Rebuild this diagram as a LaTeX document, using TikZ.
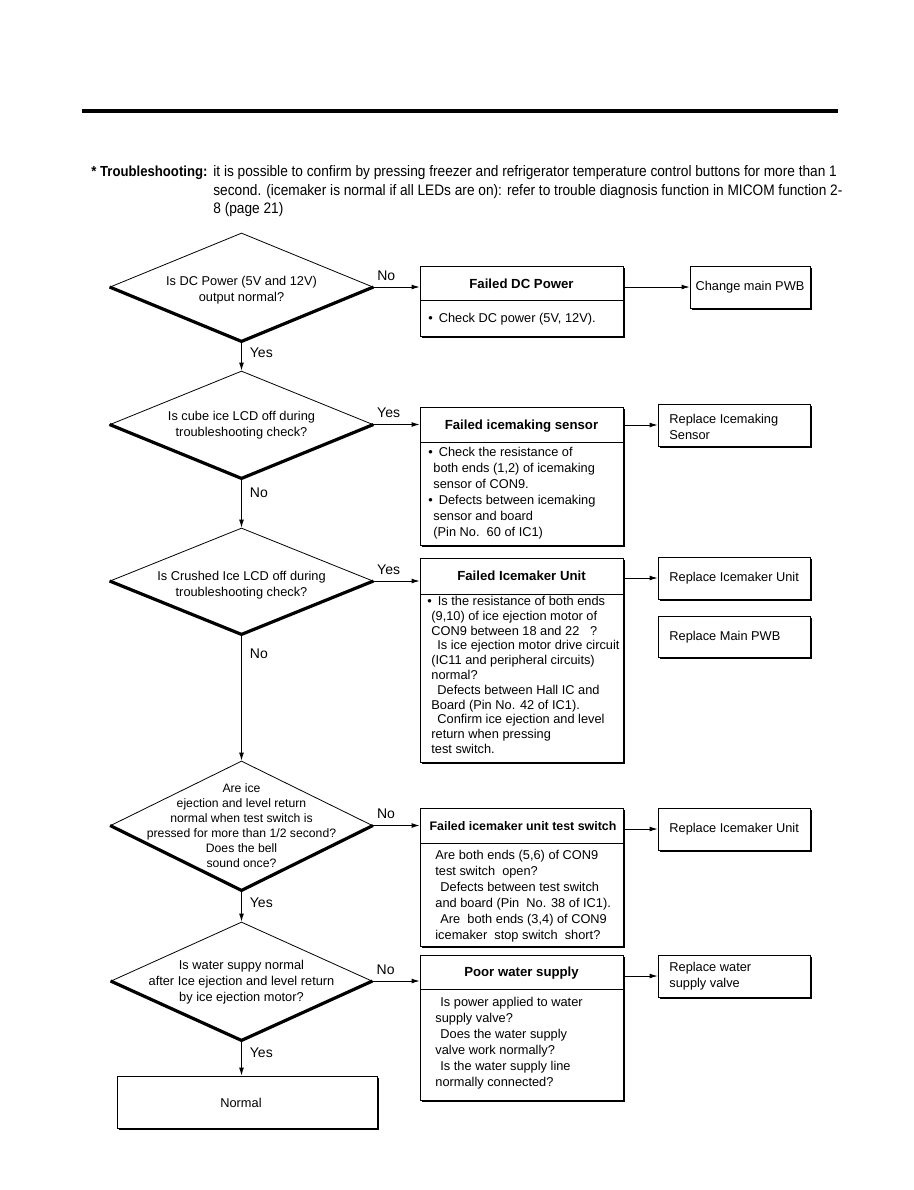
\documentclass[tikz,border=0pt]{standalone}
\usepackage{fontspec}
\setmainfont{Liberation Sans}
\newfontfamily\headfont[FakeStretch=0.9]{Liberation Sans}
\usetikzlibrary{positioning,shapes.geometric,shadows,fit,arrows.meta}

\newcommand{\bul}{•\hspace{3pt}}

\begin{document}
\begin{tikzpicture}[x=0.5pt, y=-0.5pt,
        font=\fontsize{6.4}{8}\selectfont,
        decision/.style={draw, diamond, inner sep=0pt},
        edge/.style={line width=1.6pt},
        failbox/.style={
            draw,
            fill=white,
            inner sep=0pt,
            drop shadow={shadow xshift=1.2pt, shadow yshift=-1.2pt, opacity=1, fill=black}
        },
        headtext/.style={font=\fontsize{6.6}{8}\bfseries},
        bodytext/.style={anchor=west, align=left, inner sep=0pt},
        fixtext/.style={anchor=west, align=left, inner sep=0pt},
        notetext/.style={anchor=west, inner sep=0pt, font=\headfont\fontsize{7.6}{9}\selectfont},
        arr/.style={-{Latex[length=4pt,width=2.4pt]}},
        lbl/.style={font=\fontsize{7}{8}\selectfont, inner sep=1pt}
    ]

    \useasboundingbox (0,0) rectangle (914,1190);

    % page rule and note
    \draw[line width=2pt] (82,111) -- (838,111);
    \node[notetext, font=\headfont\fontsize{7.3}{9}\bfseries] (note) at (91,173) {* Troubleshooting:};
    \node[notetext] (noteA) at (213,173) {it is possible to confirm by pressing freezer and refrigerator temperature control buttons for more than 1};
    \node[notetext] (noteB) at (213,192) {second. (icemaker is normal if all LEDs are on): refer to trouble diagnosis function in MICOM function 2-};
    \node[notetext] (noteC) at (213,210) {8 (page 21)};

    % questions
    \node[decision, minimum width=131.5pt, minimum height=54pt] (dcq) at (241.5,287) {};
    \node[align=center] (dcqtext) at (241.5,290) {Is DC Power (5V and 12V)\\output normal?};
    \draw[edge] (dcq.west) -- (dcq.south) -- (dcq.east);

    \node[decision, minimum width=131.5pt, minimum height=53.5pt] (cubeq) at (241.5,424.5) {};
    \node[align=center] (cubeqtext) at (241.5,425) {Is cube ice LCD off during\\troubleshooting check?};
    \draw[edge] (cubeq.west) -- (cubeq.south) -- (cubeq.east);

    \node[decision, minimum width=131.5pt, minimum height=53pt] (crushq) at (241.5,581) {};
    \node[align=center] (crushqtext) at (241.5,585) {Is Crushed Ice LCD off during\\troubleshooting check?};
    \draw[edge] (crushq.west) -- (crushq.south) -- (crushq.east);

    \node[decision, minimum width=131pt, minimum height=64.5pt] (ejectq) at (241.5,825.5) {};
    \node[align=center, font=\fontsize{6.1}{7.5}\selectfont] (ejectqtext) at (241.5,825.5) {Are ice\\ejection and level return\\normal when test switch is\\pressed for more than 1/2 second?\\Does the bell\\sound once?};
    \draw[edge] (ejectq.west) -- (ejectq.south) -- (ejectq.east);

    \node[decision, minimum width=130.5pt, minimum height=59pt] (waterq) at (241.5,981) {};
    \node[align=center] (waterqtext) at (241.5,982) {Is water suppy normal\\after Ice ejection and level return\\by ice ejection motor?};
    \draw[edge] (waterq.west) -- (waterq.south) -- (waterq.east);

    \node[failbox, fit={(117,1076) (377,1128)}] (normal) {};
    \node (normaltext) at (241,1103) {Normal};

    % failure boxes
    \node[failbox, fit={(420,266) (623,336)}] (dcfail) {};
    \draw (420,300) -- (623,300);
    \node[headtext] (dchead) at (521.5,284) {Failed DC Power};
    \node[bodytext] (dcbody) at (428,319) {\bul Check DC power (5V, 12V).};

    \node[failbox, fit={(420,407) (623,545)}] (cubefail) {};
    \draw (420,442) -- (623,442);
    \node[headtext] (cubehead) at (521.5,426) {Failed icemaking sensor};
    \node[bodytext] (cubebody) at (428,493) {\bul Check the resistance of\\\hspace*{2.5pt}both ends (1,2) of icemaking\\\hspace*{2.5pt}sensor of CON9.\\\bul Defects between icemaking\\\hspace*{2.5pt}sensor and board\\\hspace*{2.5pt}(Pin No.\ \ 60 of IC1)};

    \node[failbox, fit={(420,558) (623,762)}] (crushfail) {};
    \draw (420,594) -- (623,594);
    \node[headtext] (crushhead) at (521.5,576) {Failed Icemaker Unit};
    \node[bodytext, font=\fontsize{6.4}{7.4}\selectfont] (crushbody) at (427,675) {\bul Is the resistance of both ends\\\hspace*{2pt}(9,10) of ice ejection motor of\\\hspace*{2pt}CON9 between 18 and 22 \ \ ?\\\hspace*{5pt}Is ice ejection motor drive circuit\\\hspace*{2pt}(IC11 and peripheral circuits)\\\hspace*{2pt}normal?\\\hspace*{5pt}Defects between Hall IC and\\\hspace*{2pt}Board (Pin No. 42 of IC1).\\\hspace*{5pt}Confirm ice ejection and level\\\hspace*{2pt}return when pressing\\\hspace*{2pt}test switch.};

    \node[failbox, fit={(420,808) (623,946)}] (ejectfail) {};
    \draw (420,843) -- (623,843);
    \node[headtext, font=\fontsize{6.2}{8}\bfseries] (ejecthead) at (523,826) {Failed icemaker unit test switch};
    \node[bodytext] (ejectbody) at (435,896) {Are both ends (5,6) of CON9\\test switch\ \ open?\\\hspace*{2.5pt}Defects between test switch\\and board (Pin\ \ No. 38 of IC1).\\\hspace*{2.5pt}Are\ \ both ends (3,4) of CON9\\icemaker\ \ stop switch\ \ short?};

    \node[failbox, fit={(420,955) (623,1100)}] (waterfail) {};
    \draw (420,989) -- (623,989);
    \node[headtext] (waterhead) at (521.5,973) {Poor water supply};
    \node[bodytext] (waterbody) at (435,1043) {\hspace*{2.5pt}Is power applied to water\\supply valve?\\\hspace*{2.5pt}Does the water supply\\valve work normally?\\\hspace*{2.5pt}Is the water supply line\\normally connected?};

    % remedies
    \node[failbox, fit={(690,266) (810,308)}] (dcfix) {};
    \node (dcfixtext) at (dcfix.center) {Change main PWB};
    \node[failbox, fit={(658,404) (810,446)}] (cubefix) {};
    \node[fixtext] (cubefixtext) at (669,427) {Replace Icemaking\\Sensor};
    \node[failbox, fit={(658,557) (810,599)}] (crushfix) {};
    \node[fixtext] (crushfixtext) at (669,578) {Replace Icemaker Unit};
    \node[failbox, fit={(658,616) (810,657)}] (boardfix) {};
    \node[fixtext] (boardfixtext) at (669,637) {Replace Main PWB};
    \node[failbox, fit={(658,808) (810,850)}] (ejectfix) {};
    \node[fixtext] (ejectfixtext) at (669,829) {Replace Icemaker Unit};
    \node[failbox, fit={(658,955) (810,997)}] (waterfix) {};
    \node[fixtext] (waterfixtext) at (669,976) {Replace water\\supply valve};

    % flow
    \draw[arr] (dcq.south) -- node[lbl, pos=0.4, right=3pt] (dcyes) {Yes} (cubeq.north);
    \draw[arr] (cubeq.south) -- node[lbl, pos=0.3, right=3pt] (cubeno) {No} (crushq.north);
    \draw[arr] (crushq.south) -- node[lbl, pos=0.15, right=3pt] (crushno) {No} (ejectq.north);
    \draw[arr] (ejectq.south) -- node[lbl, pos=0.4, right=3pt] (ejectyes) {Yes} (waterq.north);
    \draw[arr] (waterq.south) -- node[lbl, pos=0.35, right=3pt] (wateryes) {Yes} (waterq.south |- normal.north);

    \draw[arr] (dcq.east) -- node[lbl, pos=0.28, above=2pt] (dcno) {No} (dcq.east -| dcfail.west);
    \draw[arr] (cubeq.east) -- node[lbl, pos=0.33, above=2pt] (cubeyes) {Yes} (cubeq.east -| cubefail.west);
    \draw[arr] (crushq.east) -- node[lbl, pos=0.33, above=2pt] (crushyes) {Yes} (crushq.east -| crushfail.west);
    \draw[arr] (ejectq.east) -- node[lbl, pos=0.28, above=2pt] (ejectno) {No} (ejectq.east -| ejectfail.west);
    \draw[arr] (waterq.east) -- node[lbl, pos=0.28, above=2pt] (waterno) {No} (waterq.east -| waterfail.west);

    \draw[arr] (dcfix.west -| dcfail.east) -- (dcfix.west);
    \draw[arr] (cubefix.west -| cubefail.east) -- (cubefix.west);
    \draw[arr] (crushfix.west -| crushfail.east) -- (crushfix.west);
    \draw[arr] (ejectfix.west -| ejectfail.east) -- (ejectfix.west);
    \draw[arr] (waterfix.west -| waterfail.east) -- (waterfix.west);

\end{tikzpicture}
\end{document}
